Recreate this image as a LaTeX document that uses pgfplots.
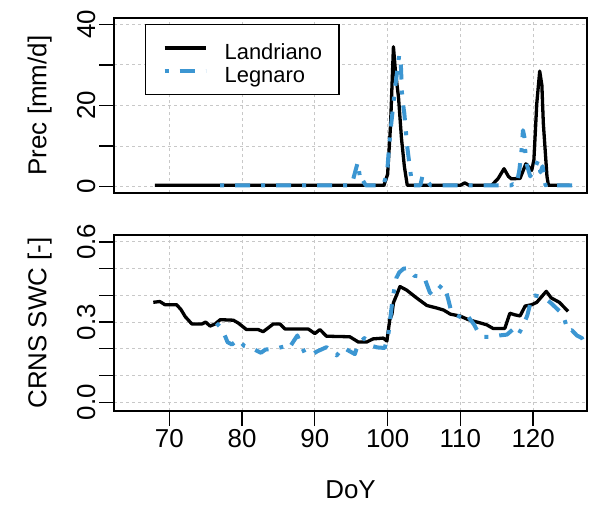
\documentclass[border=0pt]{standalone}
\usepackage{pgfplots}
\pgfplotsset{compat=1.18}
\usepackage{fontspec}
\setmainfont{Liberation Sans}

\definecolor{legblue}{RGB}{60,150,210}
\definecolor{gridgray}{RGB}{200,200,200}

\pgfplotsset{
  panel/.style={
    scale only axis, width=473bp,
    xmin=62.4, xmax=127.4,
    xtick={70,80,...,120},
    grid=major,
    major grid style={gridgray, line width=1bp, dash pattern=on 3bp off 3bp},
    axis line style={line width=1.3bp},
    tick align=outside, major tick length=15bp,
    tick style={black, line width=1.3bp},
    ytick pos=left, xtick pos=bottom,
    ticklabel style={font=\fontsize{26}{30}\selectfont},
    yticklabel style={rotate=90, anchor=south},
    label style={font=\fontsize{26}{30}\selectfont},
    every axis y label/.style={at={(axis description cs:-0.157,0.5)}, rotate=90,
      anchor=center, font=\fontsize{26}{30}\selectfont},
    /pgf/number format/assume math mode=true,
  },
  landr/.style={black, line width=3.3bp, line join=round},
  legn/.style={legblue, line width=4bp, line join=round,
    dash pattern=on 4bp off 11bp on 15bp off 11bp},
}

\begin{document}
\begin{tikzpicture}
\path[use as bounding box] (0bp,0bp) rectangle (590bp,-513bp);

% precipitation
\begin{axis}[panel, at={(114bp,-18bp)}, anchor=north west, height=175bp,
  ymin=-1.6, ymax=41.6, ytick={0,10,20,30,40}, yticklabels={0,,20,,40},
  xticklabels={}, xtick style={draw=none},
  ylabel={Prec [mm/d]},
  legend style={at={(axis description cs:0.0655,0.966)}, anchor=north west,
    draw=black, line width=1.3bp, font=\fontsize{22}{26}\selectfont,
    inner xsep=17bp, inner ysep=11bp, row sep=-2bp,
    nodes={inner sep=0bp, text height=24bp, text depth=1bp},
    /tikz/every odd column/.style={column sep=17bp}},
  legend cell align=left,
  legend image code/.code={\draw[#1] (0bp,0bp) -- (41bp,0bp);},
]
\addplot[landr] coordinates {
 (68,0.3) (75,0.3) (85,0.3) (95,0.3) (99.5,0.3) (100,3) (100.4,15) (100.8,34.5)
 (101.1,28) (101.5,22) (101.9,12) (102.3,5) (102.7,0.3) (106,0.3) (110,0.3)
 (110.6,0.9) (111.2,0.3) (114.3,0.3) (115.2,2.0) (116,4.4) (116.6,2.5) (117.0,1.9)
 (118.2,2.0) (119.0,5.6) (119.8,4.0) (120.1,6.5) (120.5,20.5) (120.9,28.5)
 (121.2,25) (121.4,15.6) (121.9,2.5) (122.1,0.3) (125,0.3)
};
\addplot[legn] coordinates {
 (77,0.3) (95,0.3) (95.3,2) (95.9,6) (96.3,1) (96.6,1.5) (97,0.3) (99.4,0.3)
 (99.7,2) (100.0,5) (100.2,9.8) (100.5,15.5) (101.0,24) (101.6,32.5) (101.8,31)
 (102.0,22) (102.3,18) (102.7,9.8) (103.1,4) (103.4,0.3) (104.5,0.3) (104.8,2.7)
 (105.4,1.5) (105.9,0.3) (117,0.3) (117.2,0.6) (117.7,0.3) (118.1,4) (118.4,8.9)
 (118.6,13.9) (118.8,12.2) (119.0,6.5) (119.2,5) (119.6,2.5) (120.0,4) (120.3,4.8)
 (120.7,6.5) (121.0,3.5) (121.3,5) (121.7,0.3) (122.1,0.8) (122.6,0.3) (126,0.3)
 (126.5,1.2)
};
\legend{Landriano,Legnaro}
\end{axis}

% soil water content
\begin{axis}[panel, at={(114bp,-235bp)}, anchor=north west, height=176bp,
  ymin=-0.033, ymax=0.626, ytick={0,0.1,...,0.6},
  yticklabels={0.0,,,0.3,,,0.6},
  ylabel={CRNS SWC [-]}, xlabel={DoY},
  xlabel style={at={(axis description cs:0.5,-0.449)}, anchor=center},
]
\addplot[landr] coordinates {
 (67.8,0.374) (68.7,0.377) (69.4,0.365) (71.0,0.365) (71.6,0.347) (72.2,0.32)
 (73.1,0.293) (74.5,0.293) (75.0,0.30) (75.6,0.285) (76.3,0.293) (77.0,0.309)
 (78.8,0.307) (79.5,0.296) (80.6,0.272) (82.2,0.272) (82.9,0.264) (84.3,0.293)
 (85.2,0.293) (85.9,0.274) (89.1,0.274) (90.0,0.257) (90.7,0.272) (91.6,0.247)
 (94.8,0.245) (96.0,0.225) (97.1,0.225) (98.0,0.237) (99.4,0.24) (99.9,0.229)
 (100.3,0.309) (100.6,0.33) (100.8,0.372) (101.7,0.433) (102.6,0.42) (104.0,0.39)
 (105.4,0.362) (106.7,0.353) (107.7,0.345) (108.6,0.33) (110.0,0.322) (111.1,0.309)
 (112.3,0.30) (113.6,0.29) (114.5,0.276) (116.1,0.276) (116.8,0.333) (117.5,0.327)
 (118.2,0.323) (118.9,0.36) (119.8,0.365) (120.5,0.374) (121.8,0.415) (122.5,0.39)
 (123.6,0.374) (124.8,0.34)
};
\addplot[legn] coordinates {
 (76.5,0.296) (77.3,0.272) (78.0,0.225) (78.6,0.216) (79.5,0.235) (80.3,0.21)
 (81.5,0.20) (82.6,0.185) (83.2,0.197) (84.5,0.20) (86.0,0.21) (86.4,0.20)
 (87.6,0.25) (88.0,0.22) (88.6,0.185) (89.5,0.176) (90.3,0.19) (91.6,0.206)
 (92.4,0.19) (93.0,0.175) (93.9,0.205) (94.5,0.195) (95.5,0.18) (95.9,0.215)
 (96.8,0.24) (97.9,0.21) (98.6,0.205) (99.6,0.203) (100.1,0.253) (100.7,0.39)
 (101.2,0.465) (101.6,0.486) (102.2,0.50) (102.8,0.502) (103.7,0.473) (105.0,0.47)
 (105.8,0.411) (106.2,0.40) (107.5,0.44) (108.0,0.42) (108.8,0.335) (110.2,0.316)
 (110.8,0.33) (111.9,0.29) (112.6,0.253) (113.1,0.245) (114.3,0.245) (115.4,0.25)
 (116.4,0.253) (117.2,0.272) (117.9,0.25) (118.6,0.285) (119.2,0.325) (119.7,0.38)
 (120.2,0.40) (121.6,0.39) (122.5,0.37) (124.1,0.328) (124.8,0.266) (125.3,0.27)
 (126.0,0.25) (126.7,0.24) (127.4,0.203)
};
\end{axis}
\end{tikzpicture}
\end{document}
